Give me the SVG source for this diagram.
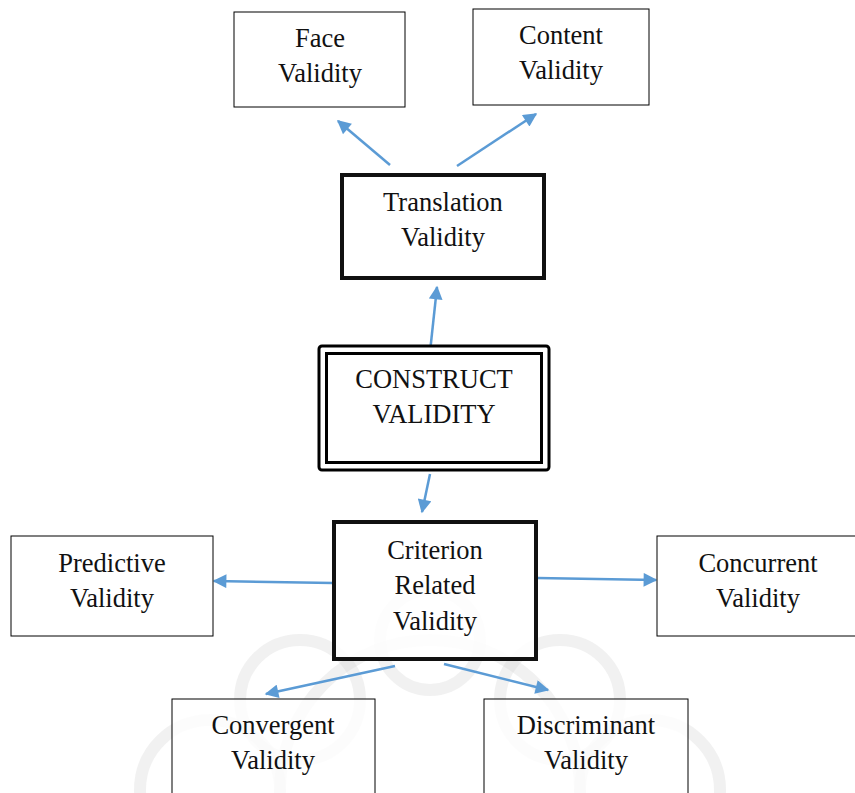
<svg xmlns="http://www.w3.org/2000/svg" width="855" height="793" viewBox="0 0 855 793">
<defs>
<marker id="ah" viewBox="0 0 10 10" refX="9" refY="5" markerWidth="6" markerHeight="5.5" orient="auto" markerUnits="strokeWidth">
<path d="M0,0 L10,5 L0,10 z" fill="#5B9BD5"/>
</marker>
<style>
.box{fill:#fff;stroke:#000;stroke-width:1}
.thick{fill:#fff;stroke:#111;stroke-width:4}
.dbl{fill:none;stroke:#000;stroke-width:3}
.t{font-family:"Liberation Serif","Times New Roman",serif;font-size:26.5px;fill:#111;text-anchor:middle}
.c{stroke:#5B9BD5;stroke-width:2.5;fill:none;marker-end:url(#ah)}
.wm{fill:none;stroke:#d0d0d0;stroke-width:12;opacity:0.3}
</style>
</defs>
<rect width="855" height="793" fill="#fff"/>
<g id="watermark">
<circle class="wm" cx="430" cy="790" r="150"/>
<circle class="wm" cx="300" cy="700" r="60"/>
<circle class="wm" cx="560" cy="700" r="60"/>
<circle class="wm" cx="430" cy="640" r="50"/>
<circle class="wm" cx="210" cy="790" r="70"/>
<circle class="wm" cx="650" cy="790" r="70"/>
</g>
<g id="connectors">
<line class="c" x1="390" y1="165" x2="338" y2="121"/>
<line class="c" x1="457" y1="166" x2="536" y2="114"/>
<line class="c" x1="430" y1="352" x2="437" y2="287"/>
<line class="c" x1="430" y1="474" x2="422" y2="512"/>
<line class="c" x1="333" y1="583" x2="214" y2="581"/>
<line class="c" x1="537" y1="578" x2="656" y2="580"/>
<line class="c" x1="395" y1="666" x2="266" y2="694"/>
<line class="c" x1="444" y1="664" x2="548" y2="690"/>
</g>
<g id="face">
<rect class="box" x="234" y="12" width="171" height="95"/>
<text class="t" x="320" y="47">Face</text>
<text class="t" x="320" y="82">Validity</text>
</g>
<g id="content">
<rect class="box" x="473" y="9" width="176" height="96"/>
<text class="t" x="561" y="44">Content</text>
<text class="t" x="561" y="79">Validity</text>
</g>
<g id="translation">
<rect class="thick" x="342" y="175" width="202" height="103"/>
<text class="t" x="443" y="211">Translation</text>
<text class="t" x="443" y="246">Validity</text>
</g>
<g id="construct">
<rect x="319" y="346" width="230" height="124" rx="3" fill="#fff" stroke="#000" stroke-width="3"/>
<rect class="dbl" x="326.5" y="353.5" width="215" height="109"/>
<text class="t" x="434" y="388">CONSTRUCT</text>
<text class="t" x="434" y="423">VALIDITY</text>
</g>
<g id="criterion">
<rect class="thick" x="334" y="522" width="202" height="137" fill-opacity="0.85"/>
<text class="t" x="435" y="559">Criterion</text>
<text class="t" x="435" y="594" fill="#333">Related</text>
<text class="t" x="435" y="630">Validity</text>
</g>
<g id="predictive">
<rect class="box" x="11" y="536" width="202" height="100"/>
<text class="t" x="112" y="572">Predictive</text>
<text class="t" x="112" y="607">Validity</text>
</g>
<g id="concurrent">
<rect class="box" x="657" y="536" width="205" height="100"/>
<text class="t" x="758" y="572">Concurrent</text>
<text class="t" x="758" y="607">Validity</text>
</g>
<g id="convergent">
<rect class="box" x="172" y="699" width="203" height="110" fill-opacity="0.8"/>
<text class="t" x="273" y="734">Convergent</text>
<text class="t" x="273" y="769">Validity</text>
</g>
<g id="discriminant">
<rect class="box" x="484" y="699" width="204" height="110" fill-opacity="0.8"/>
<text class="t" x="586" y="734">Discriminant</text>
<text class="t" x="586" y="769">Validity</text>
</g>
</svg>
